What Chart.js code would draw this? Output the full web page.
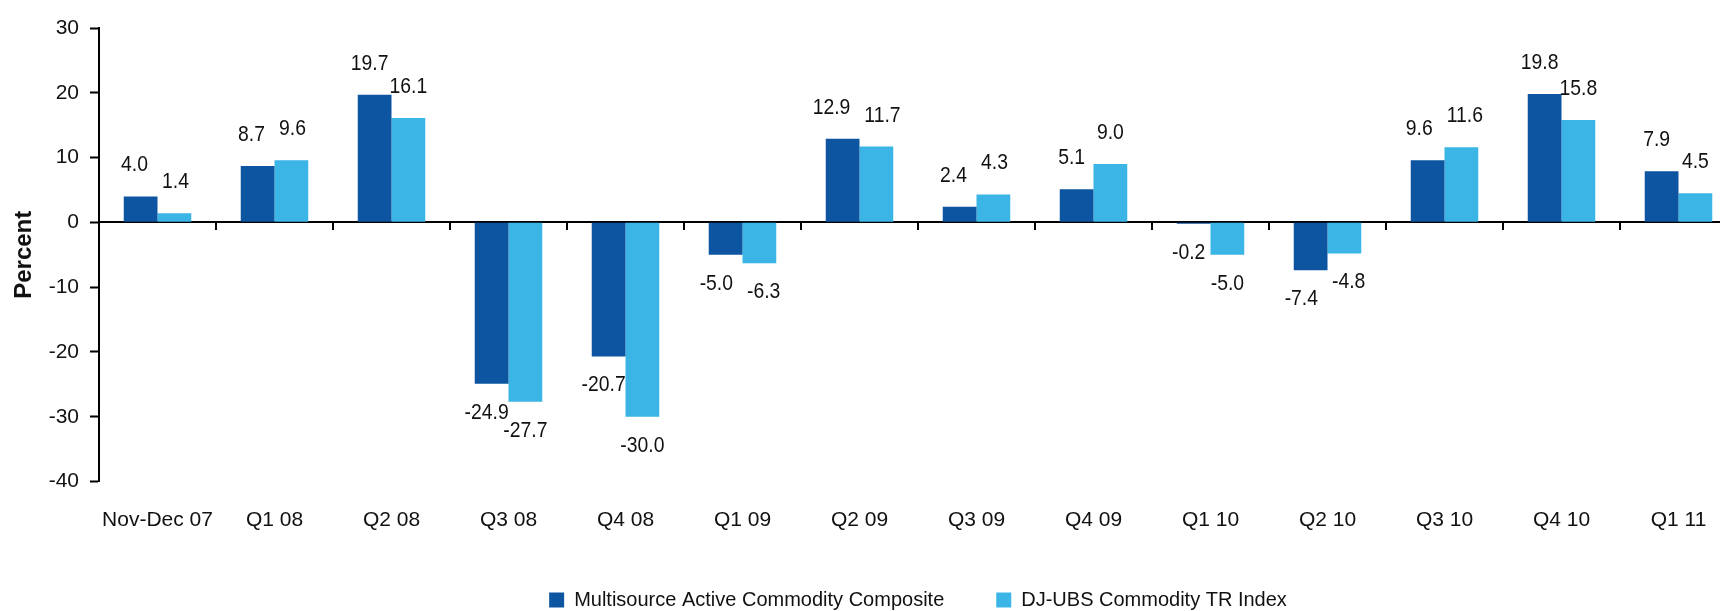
<!DOCTYPE html>
<html>
<head>
<meta charset="utf-8">
<script src="https://cdn.jsdelivr.net/npm/chart.js@4"></script>
<style>
  html, body { margin: 0; padding: 0; background: #fff; overflow: hidden; }
  #wrap { width: 1737px; height: 620px; }
</style>
</head>
<body>
<div id="wrap"><canvas id="chart" width="1737" height="620"></canvas></div>
<script>
// Quarterly returns, in percent
const categories = ['Nov-Dec 07', 'Q1 08', 'Q2 08', 'Q3 08', 'Q4 08', 'Q1 09', 'Q2 09',
                    'Q3 09', 'Q4 09', 'Q1 10', 'Q2 10', 'Q3 10', 'Q4 10', 'Q1 11'];
const compositeReturns = [4.0, 8.7, 19.7, -24.9, -20.7, -5.0, 12.9, 2.4, 5.1, -0.2, -7.4, 9.6, 19.8, 7.9];
const djubsReturns = [1.4, 9.6, 16.1, -27.7, -30.0, -6.3, 11.7, 4.3, 9.0, -5.0, -4.8, 11.6, 15.8, 4.5];
const seriesNames = ['Multisource Active Commodity Composite', 'DJ-UBS Commodity TR Index'];
const yTicks = [-40, -30, -20, -10, 0, 10, 20, 30];

const FONT = "'Liberation Sans', Arial, sans-serif";
const INK = '#111111';

// Value labels: narrow type, placed past each bar's end; labels of a pair
// that sit at nearly the same height are nudged apart so they never touch.
const LABEL_SIZE = 22;
const CONDENSE = 0.88;
const valueLabels = {
  id: 'valueLabels',
  afterDatasetsDraw(chart) {
    const ctx = chart.ctx;
    ctx.save();
    ctx.font = LABEL_SIZE + 'px ' + FONT;
    ctx.fillStyle = INK;
    ctx.textAlign = 'center';
    ctx.textBaseline = 'alphabetic';
    const metas = chart.data.datasets.map((ds, i) => chart.getDatasetMeta(i));
    chart.data.labels.forEach((cat, j) => {
      const items = metas.map((meta, i) => {
        const bar = meta.data[j];
        const v = chart.data.datasets[i].data[j];
        const text = v.toFixed(1);
        const w = ctx.measureText(text).width * CONDENSE;
        const y = v >= 0 ? bar.y - 25 : Math.max(bar.y, bar.base) + 35;
        return { text, w, x: bar.x, y };
      });
      const [a, b] = items;
      a.x -= 5;
      if (Math.abs(a.y - b.y) < 18) {
        const gap = (b.x - b.w / 2) - (a.x + a.w / 2);
        if (gap < 14) {
          const d = (14 - gap) / 2;
          a.x -= d;
          b.x += d;
        }
      }
      items.forEach(it => {
        ctx.save();
        ctx.translate(it.x, it.y);
        ctx.scale(CONDENSE, 1);
        ctx.fillText(it.text, 0, 0);
        ctx.restore();
      });
    });
    ctx.restore();
  }
};

new Chart(document.getElementById('chart'), {
  type: 'bar',
  data: {
    labels: categories,
    datasets: [
      { label: seriesNames[0], data: compositeReturns, backgroundColor: '#0d55a0',
        xAxisID: 'x', yAxisID: 'y' },
      { label: seriesNames[1], data: djubsReturns, backgroundColor: '#3bb4e6',
        xAxisID: 'x', yAxisID: 'y' }
    ]
  },
  options: {
    responsive: false,
    animation: false,
    devicePixelRatio: 1,
    categoryPercentage: 0.577,
    barPercentage: 1.0,
    layout: { padding: { top: 28, left: 0, right: 0, bottom: 0 } },
    plugins: {
      legend: {
        position: 'bottom',
        fullSize: false,
        labels: {
          font: { family: FONT, size: 20 },
          color: INK,
          boxWidth: 15,
          boxHeight: 15,
          padding: 52
        }
      },
      tooltip: { enabled: false }
    },
    scales: {
      x: {
        type: 'category',
        position: 'bottom',
        offset: true,
        afterFit(scale) { scale.height = 56.5; },
        border: { display: false },
        grid: { display: false, drawTicks: false, offset: true },
        ticks: {
          font: { family: FONT, size: 21 },
          color: INK,
          padding: 26,
          maxRotation: 0,
          autoSkip: false
        }
      },
      // zero line with category dividers
      xZero: {
        type: 'category',
        axis: 'x',
        position: { y: 0 },
        offset: true,
        border: { display: true, color: '#000', width: 2 },
        grid: {
          display: true,
          offset: true,
          drawOnChartArea: false,
          drawTicks: true,
          tickLength: 7,
          tickWidth: 2,
          tickColor: '#000',
          lineWidth: 2,
          color: '#000'
        },
        ticks: { display: false }
      },
      y: {
        type: 'linear',
        position: 'left',
        min: -40,
        max: 30,
        afterBuildTicks(scale) { scale.ticks = yTicks.map(v => ({ value: v })); },
        afterFit(scale) { scale.width = 99; },
        border: { display: true, color: '#000', width: 2 },
        grid: {
          drawOnChartArea: false,
          drawTicks: true,
          tickLength: 9,
          tickWidth: 2,
          tickColor: '#000',
          color: '#000'
        },
        ticks: {
          font: { family: FONT, size: 21 },
          color: INK,
          padding: 11
        },
        title: {
          display: true,
          text: 'Percent',
          font: { family: FONT, size: 24, weight: 'bold' },
          color: INK,
          padding: { top: 10, bottom: 0 }
        }
      }
    }
  },
  plugins: [valueLabels]
});
</script>
</body>
</html>
